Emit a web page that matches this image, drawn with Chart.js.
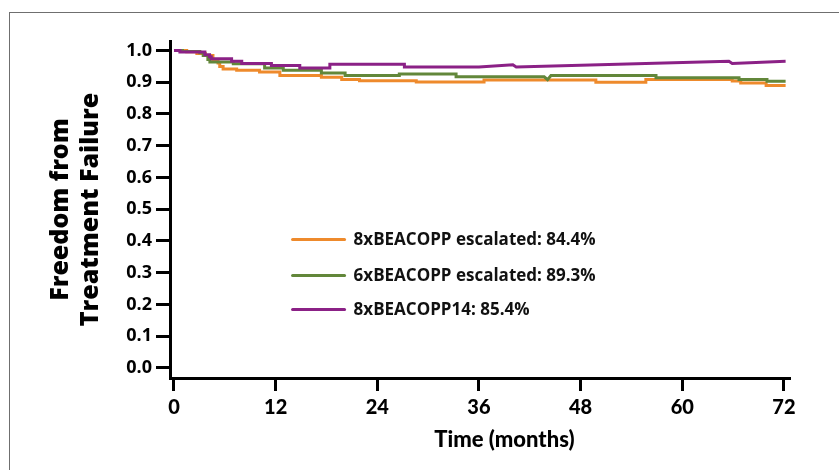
<!DOCTYPE html>
<html>
<head>
<meta charset="utf-8">
<script src="https://cdn.jsdelivr.net/npm/chart.js@4/dist/chart.umd.min.js"></script>
<style>
  html, body { margin: 0; padding: 0; background: #fff; }
  #wrap { position: relative; width: 839px; height: 470px; overflow: hidden; }
  #frame { position: absolute; left: 9px; top: 12px; width: 900px; height: 600px;
           border-left: 1px solid #6f6f6f; border-top: 1px solid #6f6f6f; }
  canvas { position: absolute; left: 0; top: 0; }
</style>
</head>
<body>
<div id="wrap">
  <div id="frame"></div>
  <canvas id="c" width="839" height="470"></canvas>
</div>
<script>
// ---- Data (months, freedom from treatment failure) ----
const seriesLabels = [
  '8xBEACOPP escalated: 84.4%',
  '6xBEACOPP escalated: 89.3%',
  '8xBEACOPP14: 85.4%'
];

const orangeMonths = [0, 1.5, 1.5, 2.7, 2.7, 3.7, 3.7, 4.6, 4.6, 5.2, 5.2, 5.4, 5.4, 5.8, 5.8, 7.4, 7.4, 10.1, 10.1, 12.5, 12.5, 17.4, 17.4, 19.8, 19.8, 21.9, 21.9, 28.6, 28.6, 36.6, 36.6, 49.8, 49.8, 55.7, 55.7, 65.9, 65.9, 66.9, 66.9, 69.9, 69.9, 72.2];
const orangeValues = [1.0, 1.0, 0.996, 0.996, 0.991, 0.991, 0.984, 0.984, 0.972, 0.972, 0.961, 0.961, 0.950, 0.950, 0.942, 0.942, 0.938, 0.938, 0.932, 0.932, 0.921, 0.921, 0.916, 0.916, 0.909, 0.909, 0.905, 0.905, 0.901, 0.901, 0.907, 0.907, 0.900, 0.900, 0.909, 0.909, 0.904, 0.904, 0.898, 0.898, 0.890, 0.890];

const greenMonths = [0, 1.0, 1.0, 3.05, 3.05, 3.45, 3.45, 4.0, 4.0, 4.24, 4.24, 7.0, 7.0, 10.7, 10.7, 12.9, 12.9, 17.4, 17.4, 20.2, 20.2, 26.6, 26.6, 33.3, 33.3, 43.7, 44.1, 44.5, 56.9, 56.9, 66.7, 66.7, 70.0, 70.0, 72.2];
const greenValues = [1.0, 1.0, 0.997, 0.997, 0.993, 0.993, 0.984, 0.984, 0.972, 0.972, 0.964, 0.964, 0.958, 0.958, 0.945, 0.945, 0.938, 0.938, 0.929, 0.929, 0.921, 0.921, 0.926, 0.926, 0.917, 0.917, 0.908, 0.921, 0.921, 0.914, 0.914, 0.909, 0.909, 0.903, 0.903];

const purpleMonths = [0, 0.7, 0.7, 3.65, 3.65, 4.2, 4.2, 4.4, 4.4, 6.8, 6.8, 8.0, 8.0, 11.5, 11.5, 14.85, 14.85, 18.4, 18.4, 27.2, 27.2, 36.0, 40.0, 40.4, 65.5, 65.9, 72.2];
const purpleValues = [1.0, 1.0, 0.995, 0.995, 0.987, 0.987, 0.980, 0.980, 0.974, 0.974, 0.966, 0.966, 0.959, 0.959, 0.953, 0.953, 0.945, 0.945, 0.957, 0.957, 0.948, 0.948, 0.955, 0.948, 0.966, 0.959, 0.966];

const xTicks = [0, 12, 24, 36, 48, 60, 72];
const yTicks = [0.0, 0.1, 0.2, 0.3, 0.4, 0.5, 0.6, 0.7, 0.8, 0.9, 1.0];
const seriesColors = ['#EE8A2C', '#62873A', '#8B2186'];
const xTitle = 'Time (months)';
const yTitle = ['Freedom from', 'Treatment Failure'];

const toPoints = (xs, ys) => xs.map((x, i) => ({ x: x, y: ys[i] }));

// ---- Legend drawn inside the plot area, and x-axis title ----
const innerLegend = {
  id: 'innerLegend',
  afterDatasetsDraw(chart) {
    const { ctx, scales } = chart;
    const rows = [0.407, 0.293, 0.186];
    const x0 = scales.x.getPixelForValue(14);
    ctx.save();
    ctx.font = 'bold 17px "Open Sans"';
    ctx.textBaseline = 'middle';
    ctx.textAlign = 'left';
    chart.data.datasets.forEach((ds, i) => {
      const y = Math.round(scales.y.getPixelForValue(rows[i])) + 0.5;
      ctx.strokeStyle = ds.borderColor;
      ctx.lineWidth = 3;
      ctx.lineCap = 'round';
      ctx.beginPath();
      ctx.moveTo(x0, y);
      ctx.lineTo(x0 + 52, y);
      ctx.stroke();
      ctx.fillStyle = '#111';
      ctx.fillText(ds.label, x0 + 61, y + 1);
    });
    // x-axis title
    ctx.font = '900 22px Lato';
    ctx.textAlign = 'center';
    ctx.fillStyle = '#000';
    ctx.fillText(xTitle, scales.x.getPixelForValue(39), scales.x.bottom - 30);
    ctx.restore();
  }
};

const dsCommon = { pointRadius: 0, borderWidth: 3, tension: 0, fill: false, borderJoinStyle: 'miter' };

new Chart(document.getElementById('c'), {
  type: 'line',
  data: {
    datasets: [
      Object.assign({ label: seriesLabels[0], data: toPoints(orangeMonths, orangeValues), borderColor: seriesColors[0], order: 3 }, dsCommon),
      Object.assign({ label: seriesLabels[1], data: toPoints(greenMonths, greenValues), borderColor: seriesColors[1], order: 2 }, dsCommon),
      Object.assign({ label: seriesLabels[2], data: toPoints(purpleMonths, purpleValues), borderColor: seriesColors[2], order: 1 }, dsCommon)
    ]
  },
  options: {
    responsive: false,
    animation: false,
    events: [],
    layout: { padding: { top: 41, right: 50, left: 0, bottom: 0 } },
    plugins: { legend: { display: false }, tooltip: { enabled: false } },
    scales: {
      x: {
        type: 'linear',
        min: -0.47,
        max: 72.6,
        afterBuildTicks: (s) => { s.ticks = xTicks.map(v => ({ value: v })); },
        afterFit: (s) => { s.height = 92; },
        border: { display: true, color: '#000', width: 3 },
        grid: { display: true, drawOnChartArea: false, drawTicks: true, tickLength: 13, lineWidth: 3, color: '#000' },
        ticks: { color: '#000', font: { family: 'Lato', weight: '900', size: 20 }, padding: 5, maxRotation: 0, autoSkip: false }
      },
      y: {
        type: 'linear',
        min: -0.032,
        max: 1.03,
        afterBuildTicks: (s) => { s.ticks = yTicks.map(v => ({ value: v })); },
        afterFit: (s) => { s.width = 170; },
        border: { display: true, color: '#000', width: 3 },
        grid: { display: true, drawOnChartArea: false, drawTicks: true, tickLength: 14, lineWidth: 3, color: '#000' },
        ticks: { color: '#000', font: { family: 'Open Sans', weight: 'bold', size: 18 }, padding: 4, autoSkip: false, callback: (v) => Number(v).toFixed(1) },
        title: { display: true, text: yTitle, color: '#000', font: { family: 'Open Sans', weight: '800', size: 25, lineHeight: 1.2 }, padding: { top: 46, bottom: 0 } }
      }
    }
  },
  plugins: [innerLegend]
});
</script>
</body>
</html>
